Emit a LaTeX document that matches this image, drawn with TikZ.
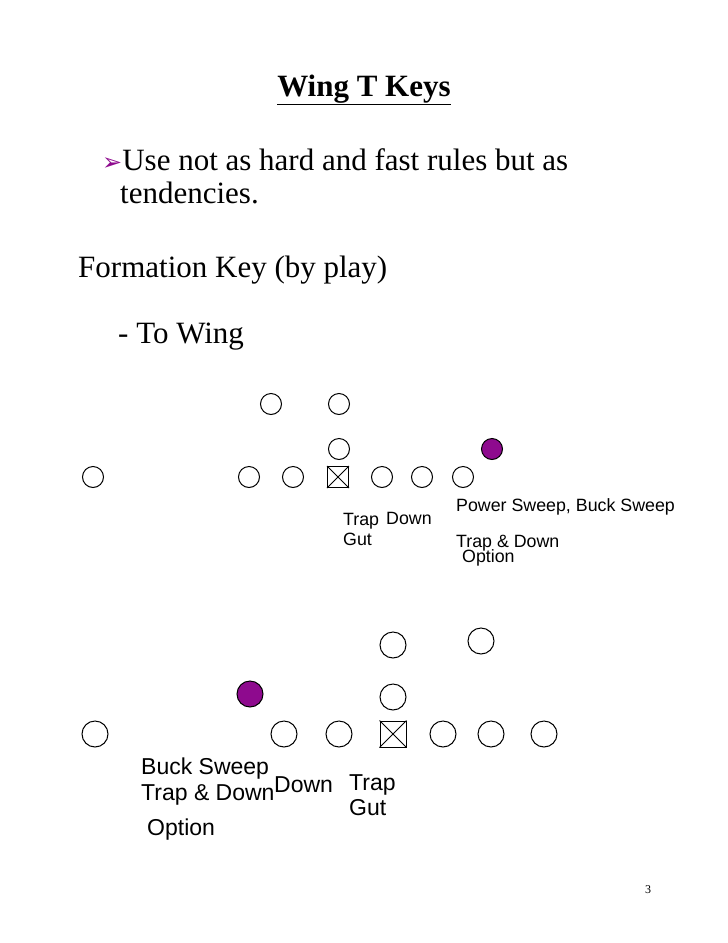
\documentclass[tikz,border=0pt]{standalone}
\usepackage{fontspec}
\setmainfont{Liberation Serif}
\newfontfamily\arial{Liberation Sans}
\newfontfamily\djsans{DejaVu Sans}
\definecolor{pur}{HTML}{8E0A8E}
\begin{document}
\begin{tikzpicture}[x=1pt,y=-1pt,
  pl/.style={draw,circle,minimum size=#1,inner sep=0pt,line width=1pt},
  pp/.style={pl=#1,fill=pur},
  lab/.style={anchor=west,inner sep=0pt,font=\arial\fontsize{17.8}{17.8}\selectfont},
  labb/.style={anchor=west,inner sep=0pt,font=\arial\fontsize{23}{23}\selectfont},
  txt/.style={anchor=west,inner sep=0pt,font=\fontsize{31}{31}\selectfont}]
\useasboundingbox (0,0) rectangle (728,943);
\node[inner sep=0pt,font=\bfseries\fontsize{31}{31}\selectfont] (t) at (364,90) {\underline{Wing T Keys}};
\node[txt] (b1) at (102,160) {{\djsans\color{pur}\fontsize{24}{24}\selectfont ➢}Use not as hard and fast rules but as};
\node[txt] (b2) at (120,193) {tendencies.};
\node[txt] (f) at (78,270) {Formation Key (by play)};
\node[txt] (w) at (118,337) {- To Wing};
% top formation
\foreach \n/\x/\y in {a1/271/404,a2/339/404,a3/339/449,a4/93/477,a5/249/477,a6/293/477,a7/382/477,a8/422/477,a9/463/477}
  \node[pl=21pt] (\n) at (\x,\y) {};
\node[pp=21pt] (ap) at (492,449) {};
\node[draw,line width=1pt,minimum size=21pt,inner sep=0pt] (ac) at (338,477) {};
\draw[line width=0.8pt] (ac.north west)--(ac.south east) (ac.north east)--(ac.south west);
\node[lab] at (456,507) {Power Sweep, Buck Sweep};
\node[lab] at (343,521) {Trap};
\node[lab] at (386,518) {Down};
\node[lab] at (343,539) {Gut};
\node[lab] at (456,543) {Trap \& Down};
\node[lab] at (462,558) {Option};
% bottom formation
\foreach \n/\x/\y in {c1/393/645,c2/481/641,c3/393/697,c4/95/734,c5/284/734,c6/339/734,c7/443/734,c8/491/734,c9/544/734}
  \node[pl=26pt] (\n) at (\x,\y) {};
\node[pp=26pt] (cp) at (250,694) {};
\node[draw,line width=1pt,minimum size=26pt,inner sep=0pt] (cc) at (393,734) {};
\draw[line width=0.8pt] (cc.north west)--(cc.south east) (cc.north east)--(cc.south west);
\node[labb] at (141,769) {Buck Sweep};
\node[labb] at (141,795) {Trap \& Down};
\node[labb] at (274,785) {Down};
\node[labb] at (349,785) {Trap};
\node[labb] at (349,808) {Gut};
\node[labb] at (147,830) {Option};
\node[inner sep=0pt,font=\fontsize{12}{12}\selectfont] at (648,890) {3};
\end{tikzpicture}
\end{document}
